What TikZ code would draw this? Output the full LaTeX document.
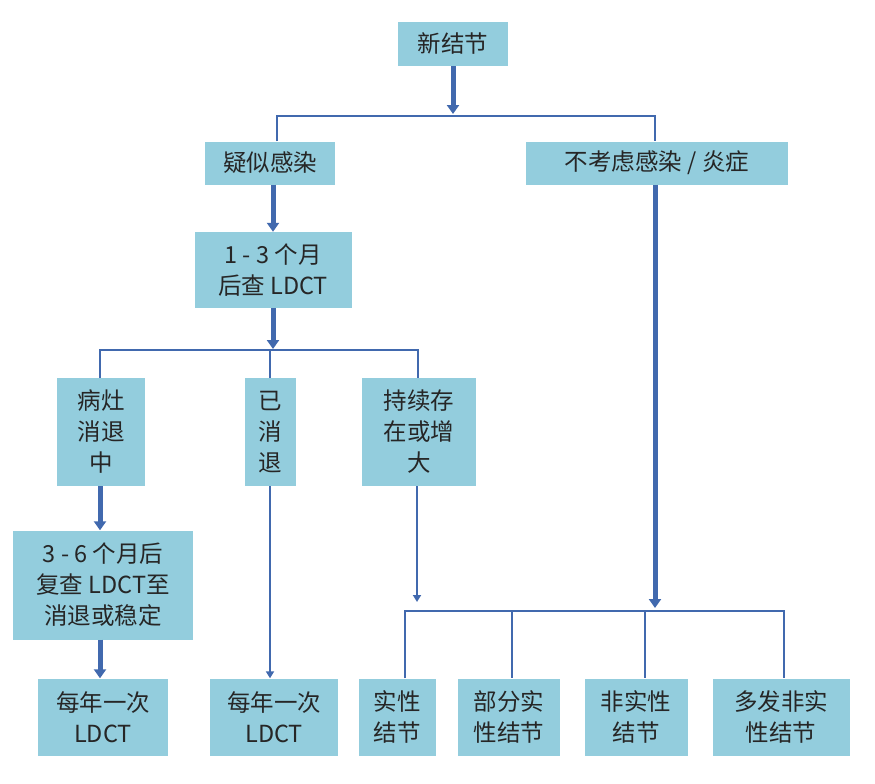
\documentclass[tikz,border=0pt]{standalone}
\usepackage{fontspec}
\setmainfont{Noto Sans CJK SC}
\usetikzlibrary{arrows.meta}
\definecolor{kastenblau}{HTML}{93CDDD}
\definecolor{linienblau}{HTML}{4169AE}
\begin{document}
\begin{tikzpicture}[
    x=1pt, y=-1pt,
    kasten/.style={
      fill=kastenblau,
      text=black!85,
      font=\fontsize{23.5}{31}\selectfont,
      align=center,
      inner sep=0pt},
    dick/.style={line width=5pt, draw=linienblau, -{Triangle[length=9pt,width=12pt]}},
    duenn/.style={line width=2.8pt, draw=linienblau},
    duennpfeil/.style={duenn, -{Triangle[length=7pt,width=8pt]}}
    ]
  \useasboundingbox (0,0) rectangle (875,784);

  \node at (453,44) (neu) [kasten, minimum width=110pt, minimum height=44pt] {新结节};
  \node at (270,163) (infekt) [kasten, minimum width=130pt, minimum height=43pt] {疑似感染};
  \node at (657,163) (keininfekt) [kasten, minimum width=262pt, minimum height=43pt] {不考虑感染 / 炎症};
  \node at (273,270) (kontrolle) [kasten, minimum width=157pt, minimum height=76pt] {1 - 3 个月\\后查 LDCT};

  \node at (101,432) (rueckgang) [kasten, minimum width=88pt, minimum height=108pt] {病灶\\消退\\中};
  \node at (270,432) (weg) [kasten, minimum width=51pt, minimum height=108pt] {已\\消\\退};
  \node at (419,432) (bleibt) [kasten, minimum width=114pt, minimum height=108pt] {持续存\\在或增\\大};
  \node at (103,585) (nachsorge) [kasten, minimum width=180pt, minimum height=109pt] {3 - 6 个月后\\复查 LDCT至\\消退或稳定};

  \node at (103,717) (jahr1) [kasten, minimum width=130pt, minimum height=77pt] {每年一次\\LDCT};
  \node at (274,717) (jahr2) [kasten, minimum width=128pt, minimum height=77pt] {每年一次\\LDCT};
  \node at (397,717) (solide) [kasten, minimum width=77pt, minimum height=77pt] {实性\\结节};
  \node at (509,717) (teilsolide) [kasten, minimum width=102pt, minimum height=77pt] {部分实\\性结节};
  \node at (636,717) (nichtsolide) [kasten, minimum width=103pt, minimum height=77pt] {非实性\\结节};
  \node at (781,717) (multipel) [kasten, minimum width=137pt, minimum height=77pt] {多发非实\\性结节};

  \coordinate (k1) at (453,114);
  \coordinate (k2) at (273,349);
  \coordinate (k3) at (417,602);
  \coordinate (k4) at (655,608);

  \draw [dick] (neu.south) -- (k1);
  \draw [duenn] ([xshift=7pt]infekt.north) |- (655,116) -- ([xshift=-2pt]keininfekt.north);
  \draw [dick] ([xshift=3pt]infekt.south) -- (kontrolle.north);
  \draw [dick] (kontrolle.south) -- (k2);
  \draw [duenn] ([xshift=-1pt]rueckgang.north) |- (418,350) -- ([xshift=-1pt]bleibt.north);
  \draw [duenn] (270,350) -- (weg.north);
  \draw [dick] ([xshift=-1pt]rueckgang.south) -- ([xshift=-3pt]nachsorge.north);
  \draw [dick] ([xshift=-3pt]nachsorge.south) -- ([xshift=-3pt]jahr1.north);
  \draw [duennpfeil] (weg.south) -- ([xshift=-4pt]jahr2.north);
  \draw [duennpfeil] ([xshift=-2pt]bleibt.south) -- (k3);
  \draw [dick] ([xshift=-2pt]keininfekt.south) -- (k4);
  \draw [duenn] ([xshift=8pt]solide.north) |- (784,611) -- ([xshift=3pt]multipel.north);
  \draw [duenn] (512,611) -- ([xshift=3pt]teilsolide.north);
  \draw [duenn] (645,611) -- ([xshift=9pt]nichtsolide.north);
\end{tikzpicture}
\end{document}
